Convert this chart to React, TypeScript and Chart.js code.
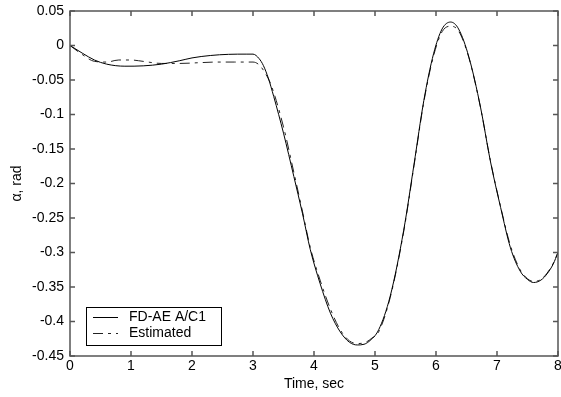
import React, { useEffect, useRef } from "react";
import { Chart, registerables } from "chart.js";

Chart.register(...registerables);

const xTicks = [0, 1, 2, 3, 4, 5, 6, 7, 8];
const yTicks = [0.05, 0, -0.05, -0.1, -0.15, -0.2, -0.25, -0.3, -0.35, -0.4, -0.45];

const seriesLabels = ["FD-AE A/C1", "Estimated"];

const timeActual = [
  0, 0.2, 0.4, 0.6, 0.9, 1.2, 1.5, 1.8, 2.0, 2.3, 2.6, 2.9, 3.0, 3.1, 3.17, 3.25, 3.34, 3.5, 3.67,
  3.81, 3.94, 4.1, 4.27, 4.43, 4.58, 4.71, 4.82, 4.9, 5.06, 5.25, 5.47, 5.64, 5.8, 5.96, 6.1, 6.24,
  6.37, 6.54, 6.73, 6.89, 7.06, 7.22, 7.38, 7.5, 7.6, 7.72, 7.82, 7.92, 8.0,
];
const alphaActual = [
  0, -0.011, -0.021, -0.027, -0.03, -0.0295, -0.027, -0.022, -0.018, -0.0145, -0.0128, -0.0125,
  -0.0125, -0.019, -0.029, -0.047, -0.074, -0.127, -0.19, -0.243, -0.296, -0.345, -0.388, -0.415,
  -0.43, -0.434, -0.433, -0.429, -0.412, -0.363, -0.268, -0.172, -0.08, -0.012, 0.024, 0.034, 0.024,
  -0.017, -0.0895, -0.167, -0.235, -0.293, -0.327, -0.339, -0.3435, -0.34, -0.331, -0.317, -0.3,
];

const timeEstimated = [
  0, 0.2, 0.4, 0.6, 0.8, 1.0, 1.2, 1.5, 1.8, 2.1, 2.4, 2.7, 3.0, 3.1, 3.2, 3.3, 3.5, 3.67, 3.81,
  3.94, 4.1, 4.27, 4.43, 4.58, 4.71, 4.85, 4.95, 5.06, 5.25, 5.47, 5.64, 5.8, 5.96, 6.1, 6.24, 6.37,
  6.54, 6.73, 6.89, 7.06, 7.22, 7.38, 7.5, 7.6, 7.72, 7.82, 7.92, 8.0,
];
const alphaEstimated = [
  0, -0.013, -0.023, -0.024, -0.021, -0.021, -0.023, -0.026, -0.026, -0.025, -0.024, -0.024, -0.024,
  -0.028, -0.04, -0.058, -0.118, -0.184, -0.24, -0.293, -0.34, -0.382, -0.412, -0.428, -0.432, -0.43,
  -0.424, -0.415, -0.365, -0.27, -0.174, -0.082, -0.015, 0.02, 0.028, 0.021, -0.018, -0.09, -0.166,
  -0.234, -0.29, -0.325, -0.338, -0.342, -0.339, -0.33, -0.316, -0.3,
];

const FONT = '"Liberation Sans", Arial, Helvetica, sans-serif';

const framePlugin = {
  id: "matlabFrame",
  afterDatasetsDraw(chart: any) {
    const { ctx, chartArea: a, scales } = chart;
    const x = scales.x;
    const y = scales.y;
    ctx.save();
    ctx.strokeStyle = "#555";
    ctx.lineWidth = 1.5;
    ctx.strokeRect(a.left, a.top, a.right - a.left, a.bottom - a.top);
    ctx.beginPath();
    xTicks.forEach((v) => {
      const px = x.getPixelForValue(v);
      ctx.moveTo(px, a.bottom);
      ctx.lineTo(px, a.bottom - 5);
      ctx.moveTo(px, a.top);
      ctx.lineTo(px, a.top + 5);
    });
    yTicks.forEach((v) => {
      const py = y.getPixelForValue(v);
      ctx.moveTo(a.left, py);
      ctx.lineTo(a.left + 5, py);
      ctx.moveTo(a.right, py);
      ctx.lineTo(a.right - 5, py);
    });
    ctx.stroke();
    ctx.restore();
  },
};

const legendPlugin = {
  id: "boxLegend",
  afterDatasetsDraw(chart: any) {
    const { ctx, chartArea: a } = chart;
    const left = a.left + 16;
    const top = a.bottom - 49;
    const w = 135;
    const h = 38;
    ctx.save();
    ctx.fillStyle = "#fff";
    ctx.fillRect(left, top, w, h);
    ctx.strokeStyle = "#000";
    ctx.lineWidth = 1;
    ctx.strokeRect(left + 0.5, top + 0.5, w, h);
    ctx.font = `14px ${FONT}`;
    ctx.textBaseline = "middle";
    ctx.textAlign = "left";
    chart.data.datasets.forEach((ds: any, i: number) => {
      const cy = top + 10.5 + i * 16;
      ctx.beginPath();
      ctx.setLineDash(ds.borderDash || []);
      ctx.strokeStyle = ds.borderColor;
      ctx.lineWidth = 1;
      ctx.moveTo(left + 7, cy);
      ctx.lineTo(left + 32, cy);
      ctx.stroke();
      ctx.setLineDash([]);
      ctx.fillStyle = "#000";
      ctx.fillText(ds.label, left + 43, cy);
    });
    ctx.restore();
  },
};

export default function App() {
  const ref = useRef<HTMLCanvasElement | null>(null);

  useEffect(() => {
    if (!ref.current) return;
    const chart = new Chart(ref.current, {
      type: "line",
      data: {
        datasets: [
          {
            label: seriesLabels[0],
            data: timeActual.map((t, i) => ({ x: t, y: alphaActual[i] })),
            borderColor: "#000",
            borderWidth: 1,
            pointRadius: 0,
            cubicInterpolationMode: "monotone",
            fill: false,
          },
          {
            label: seriesLabels[1],
            data: timeEstimated.map((t, i) => ({ x: t, y: alphaEstimated[i] })),
            borderColor: "#222",
            borderWidth: 1,
            borderDash: [10, 5, 3, 5],
            pointRadius: 0,
            cubicInterpolationMode: "monotone",
            fill: false,
          },
        ],
      },
      options: {
        responsive: false,
        animation: false,
        layout: { padding: { left: 0, top: 11, right: 3, bottom: 0 } },
        plugins: {
          legend: { display: false },
          tooltip: { enabled: false },
        },
        scales: {
          x: {
            type: "linear",
            min: 0,
            max: 8,
            grid: { display: false, drawTicks: false },
            border: { display: false },
            afterBuildTicks: (scale: any) => {
              scale.ticks = xTicks.map((v) => ({ value: v }));
            },
            afterFit: (scale: any) => {
              scale.height = 41;
              scale.paddingLeft = 0;
              scale.paddingRight = 0;
            },
            ticks: {
              color: "#000",
              padding: 2,
              maxRotation: 0,
              font: { family: FONT, size: 14 },
              callback: (v: any) => String(v),
            },
            title: {
              display: true,
              text: "Time, sec",
              color: "#000",
              padding: { top: 0, bottom: 4 },
              font: { family: FONT, size: 14 },
            },
          },
          y: {
            type: "linear",
            min: -0.45,
            max: 0.05,
            grid: { display: false, drawTicks: false },
            border: { display: false },
            afterBuildTicks: (scale: any) => {
              scale.ticks = yTicks.map((v) => ({ value: v }));
            },
            afterFit: (scale: any) => {
              scale.width = 70;
              scale.paddingTop = 0;
              scale.paddingBottom = 0;
            },
            ticks: {
              color: "#000",
              padding: 6,
              font: { family: FONT, size: 14 },
              callback: (v: any) => String(Math.round(Number(v) * 100) / 100),
            },
            title: {
              display: true,
              text: "α, rad",
              color: "#000",
              padding: { top: 9, bottom: 0 },
              font: { family: FONT, size: 14 },
            },
          },
        },
      },
      plugins: [framePlugin, legendPlugin],
    });
    return () => chart.destroy();
  }, []);

  return (
    <div style={{ position: "fixed", left: 0, top: 0, width: 561, height: 397, background: "#fff" }}>
      <canvas ref={ref} width={561} height={397} style={{ width: 561, height: 397, display: "block" }} />
    </div>
  );
}
